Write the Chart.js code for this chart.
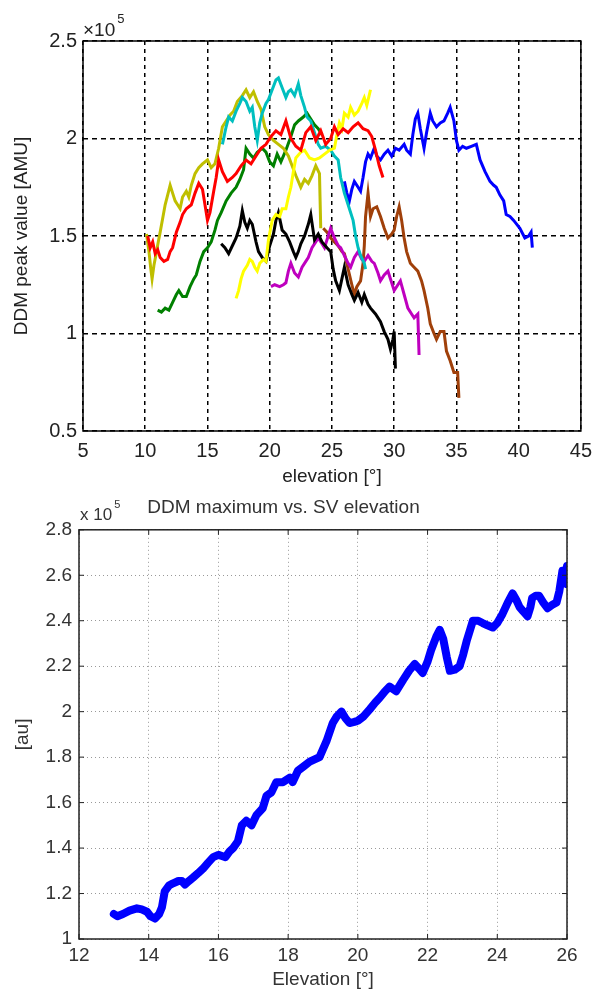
<!DOCTYPE html>
<html>
<head>
<meta charset="utf-8">
<script src="https://cdn.jsdelivr.net/npm/chart.js@4.4.1/dist/chart.umd.min.js"></script>
<style>
  html, body { margin: 0; padding: 0; background: #fff; }
  canvas { display: block; }
</style>
</head>
<body>
<canvas id="peakChart" width="600" height="490"></canvas>
<canvas id="maxChart" width="600" height="505"></canvas>
<script>
// DDM peak value (x10^5) vs elevation [deg], one array per satellite track
const redTrack = [[10.2,1.50],[10.4,1.44],[10.6,1.47],[10.8,1.41],[11.0,1.43],[11.2,1.39],[11.5,1.37],[11.8,1.38],[12.0,1.42],[12.2,1.44],[12.5,1.52],[12.8,1.57],[13.0,1.61],[13.3,1.64],[13.7,1.66],[14.0,1.72],[14.3,1.77],[14.6,1.74],[14.8,1.66],[15.0,1.58],[15.2,1.62],[15.5,1.73],[15.7,1.80],[15.9,1.89],[16.2,1.83],[16.6,1.78],[17.0,1.80],[17.3,1.82],[17.7,1.86],[18.1,1.89],[18.5,1.87],[18.9,1.91],[19.3,1.95],[19.7,1.97],[20.1,2.01],[20.5,2.04],[20.9,2.02],[21.3,2.09],[21.7,2.00],[22.1,1.96],[22.5,1.94],[22.9,2.03],[23.3,2.06],[23.7,1.99],[24.1,2.04],[24.5,1.97],[24.9,2.00],[25.2,2.06],[25.5,2.02],[25.9,2.05],[26.3,2.03],[26.7,2.06],[27.1,2.08],[27.5,2.05],[27.9,2.04],[28.2,2.01],[28.5,1.94],[28.8,1.86],[29.1,1.80]];
const oliveTrack = [[10.1,1.51],[10.3,1.42],[10.45,1.33],[10.55,1.28],[10.7,1.35],[10.85,1.40],[11.05,1.47],[11.2,1.52],[11.4,1.59],[11.6,1.66],[11.8,1.71],[12.0,1.76],[12.2,1.72],[12.4,1.68],[12.6,1.66],[12.8,1.64],[13.0,1.70],[13.3,1.73],[13.5,1.70],[13.7,1.76],[14.0,1.82],[14.3,1.85],[14.6,1.87],[15.0,1.89],[15.3,1.85],[15.6,1.87],[15.9,1.95],[16.2,2.06],[16.5,2.09],[16.8,2.12],[17.1,2.14],[17.4,2.19],[17.8,2.22],[18.1,2.25],[18.4,2.21],[18.7,2.24],[19.0,2.19],[19.3,2.15],[19.6,2.06],[19.9,2.02],[20.3,1.99],[20.7,1.97],[21.1,1.95],[21.5,1.91],[21.8,1.86],[22.1,1.81],[22.5,1.75],[22.8,1.79],[23.1,1.77],[23.4,1.81],[23.7,1.86],[24.0,1.82],[24.1,1.54]];
const greenTrack = [[11.0,1.12],[11.3,1.11],[11.6,1.13],[11.9,1.12],[12.2,1.16],[12.5,1.20],[12.7,1.22],[13.0,1.19],[13.3,1.19],[13.6,1.24],[13.9,1.28],[14.1,1.30],[14.4,1.37],[14.7,1.42],[15.0,1.44],[15.3,1.47],[15.6,1.53],[15.8,1.58],[16.1,1.62],[16.5,1.68],[16.9,1.72],[17.3,1.75],[17.6,1.79],[17.9,1.84],[18.1,1.95],[18.4,1.92],[18.7,1.90],[19.0,1.93],[19.4,1.95],[19.7,1.93],[20.0,1.88],[20.3,1.86],[20.6,1.92],[20.9,1.88],[21.3,1.94],[21.7,2.01],[22.0,2.07],[22.3,2.09],[22.7,2.11],[23.0,2.13],[23.3,2.10],[23.6,2.07],[23.9,2.05],[24.2,2.02]];
const cyanTrack = [[16.2,1.97],[16.5,2.06],[16.7,2.11],[17.0,2.09],[17.3,2.14],[17.6,2.18],[17.8,2.21],[18.1,2.19],[18.4,2.14],[18.6,2.16],[18.8,2.06],[19.0,1.99],[19.2,2.08],[19.4,2.13],[19.7,2.18],[19.9,2.20],[20.2,2.25],[20.5,2.30],[20.7,2.31],[21.0,2.26],[21.3,2.21],[21.5,2.24],[21.7,2.25],[22.0,2.22],[22.3,2.28],[22.5,2.22],[22.8,2.16],[23.0,2.11],[23.3,2.09],[23.6,2.03],[23.9,1.97],[24.1,1.95],[24.5,1.96],[24.9,1.94],[25.2,1.91],[25.5,1.89],[25.7,1.80],[26.0,1.72],[26.3,1.66],[26.7,1.58],[26.9,1.50],[27.1,1.44],[27.3,1.40],[27.6,1.36],[27.7,1.33]];
const yellowTrack = [[17.3,1.18],[17.5,1.22],[17.7,1.28],[17.9,1.32],[18.2,1.35],[18.4,1.38],[18.6,1.37],[18.8,1.34],[19.0,1.32],[19.2,1.36],[19.5,1.38],[19.7,1.37],[19.9,1.48],[20.2,1.58],[20.5,1.61],[20.8,1.60],[21.0,1.64],[21.3,1.64],[21.5,1.70],[21.7,1.75],[21.9,1.83],[22.1,1.90],[22.5,1.93],[22.8,1.94],[23.2,1.90],[23.6,1.89],[24.0,1.90],[24.4,1.92],[24.8,1.94],[25.2,1.95],[25.4,2.02],[25.6,2.08],[25.8,2.05],[26.0,2.13],[26.3,2.11],[26.5,2.16],[26.8,2.12],[27.1,2.14],[27.4,2.18],[27.6,2.21],[27.8,2.17],[28.1,2.25]];
const blackTrack = [[16.1,1.46],[16.4,1.44],[16.7,1.41],[17.0,1.45],[17.3,1.49],[17.6,1.55],[17.8,1.63],[18.0,1.57],[18.2,1.54],[18.4,1.58],[18.6,1.56],[18.9,1.47],[19.1,1.42],[19.4,1.39],[19.7,1.37],[20.0,1.45],[20.3,1.51],[20.5,1.58],[20.7,1.62],[21.0,1.53],[21.3,1.51],[21.6,1.47],[21.9,1.42],[22.1,1.39],[22.3,1.42],[22.5,1.46],[22.8,1.50],[23.1,1.56],[23.3,1.61],[23.6,1.48],[23.9,1.51],[24.2,1.47],[24.6,1.44],[24.9,1.42],[25.1,1.33],[25.3,1.27],[25.6,1.22],[25.8,1.28],[26.0,1.34],[26.3,1.25],[26.6,1.20],[26.8,1.17],[27.1,1.21],[27.4,1.16],[27.6,1.20],[27.9,1.15],[28.1,1.13],[28.5,1.10],[28.9,1.06],[29.2,1.01],[29.5,0.97],[29.7,0.92],[29.9,0.97],[30.0,1.01],[30.1,0.82]];
const magentaTrack = [[20.1,1.24],[20.4,1.25],[20.8,1.24],[21.1,1.25],[21.3,1.26],[21.5,1.32],[21.7,1.36],[22.0,1.31],[22.3,1.29],[22.6,1.34],[22.9,1.37],[23.1,1.39],[23.4,1.44],[23.7,1.47],[23.9,1.49],[24.2,1.46],[24.4,1.44],[24.7,1.50],[24.9,1.54],[25.2,1.49],[25.5,1.45],[25.7,1.44],[26.0,1.40],[26.3,1.36],[26.5,1.34],[26.8,1.39],[27.1,1.42],[27.4,1.38],[27.6,1.37],[27.9,1.40],[28.2,1.37],[28.4,1.36],[28.7,1.31],[28.9,1.27],[29.2,1.30],[29.5,1.32],[29.8,1.26],[30.0,1.22],[30.3,1.25],[30.5,1.27],[30.8,1.20],[31.1,1.13],[31.4,1.10],[31.6,1.08],[31.9,1.10],[32.0,0.89]];
const brownTrack = [[24.3,1.54],[24.6,1.52],[24.9,1.49],[25.2,1.47],[25.5,1.45],[25.8,1.42],[26.0,1.41],[26.3,1.33],[26.6,1.25],[26.8,1.20],[27.0,1.24],[27.3,1.27],[27.5,1.36],[27.6,1.45],[27.7,1.60],[27.9,1.72],[28.1,1.60],[28.3,1.64],[28.6,1.65],[28.9,1.60],[29.2,1.54],[29.5,1.49],[29.8,1.51],[30.0,1.53],[30.2,1.60],[30.4,1.65],[30.6,1.58],[30.8,1.49],[31.0,1.42],[31.3,1.36],[31.6,1.34],[31.9,1.32],[32.2,1.27],[32.4,1.22],[32.7,1.13],[32.9,1.05],[33.2,1.00],[33.4,0.97],[33.7,1.01],[34.0,1.01],[34.2,0.91],[34.5,0.86],[34.8,0.80],[35.1,0.80],[35.2,0.67]];
const blueTrack = [[26.0,1.78],[26.2,1.72],[26.4,1.68],[26.6,1.74],[26.8,1.78],[27.0,1.76],[27.3,1.73],[27.5,1.80],[27.7,1.88],[27.9,1.92],[28.1,1.90],[28.4,1.95],[28.6,1.91],[28.9,1.89],[29.2,1.92],[29.5,1.94],[29.8,1.91],[30.1,1.95],[30.4,1.94],[30.8,1.97],[31.0,1.94],[31.3,1.92],[31.5,2.02],[31.7,2.10],[31.9,2.13],[32.1,2.05],[32.4,1.95],[32.6,2.03],[32.9,2.13],[33.1,2.09],[33.4,2.06],[33.7,2.08],[34.0,2.09],[34.3,2.13],[34.5,2.16],[34.8,2.09],[35.0,1.99],[35.2,1.94],[35.5,1.96],[35.8,1.95],[36.2,1.96],[36.6,1.97],[36.9,1.89],[37.3,1.83],[37.7,1.78],[38.0,1.76],[38.2,1.75],[38.5,1.71],[38.8,1.68],[39.0,1.61],[39.3,1.60],[39.6,1.58],[40.1,1.54],[40.5,1.49],[40.8,1.50],[41.0,1.52],[41.1,1.44]];

// DDM maximum (x10^5) vs SV elevation [deg]
const ddmMax = [[13.0,1.11],[13.1,1.10],[13.26,1.11],[13.45,1.125],[13.66,1.135],[13.8,1.13],[13.95,1.12],[14.05,1.10],[14.18,1.09],[14.3,1.11],[14.38,1.14],[14.46,1.21],[14.58,1.235],[14.7,1.245],[14.85,1.255],[14.95,1.255],[15.04,1.24],[15.15,1.255],[15.27,1.27],[15.42,1.29],[15.56,1.31],[15.7,1.335],[15.85,1.36],[16.0,1.37],[16.1,1.365],[16.2,1.36],[16.32,1.385],[16.42,1.40],[16.56,1.43],[16.67,1.50],[16.8,1.52],[16.95,1.50],[17.09,1.545],[17.27,1.575],[17.38,1.63],[17.52,1.645],[17.66,1.69],[17.85,1.69],[18.05,1.71],[18.13,1.69],[18.28,1.74],[18.45,1.76],[18.62,1.78],[18.9,1.80],[19.1,1.87],[19.28,1.95],[19.4,1.98],[19.53,2.0],[19.65,1.97],[19.76,1.95],[19.9,1.955],[20.0,1.96],[20.17,1.98],[20.34,2.01],[20.5,2.04],[20.62,2.06],[20.78,2.09],[20.91,2.11],[21.1,2.09],[21.3,2.14],[21.47,2.18],[21.63,2.21],[21.75,2.19],[21.86,2.17],[22.0,2.22],[22.1,2.27],[22.25,2.33],[22.35,2.36],[22.45,2.32],[22.55,2.24],[22.64,2.18],[22.78,2.185],[22.92,2.20],[23.02,2.25],[23.12,2.31],[23.22,2.36],[23.3,2.40],[23.45,2.40],[23.58,2.39],[23.72,2.38],[23.87,2.37],[24.0,2.39],[24.15,2.43],[24.3,2.48],[24.44,2.52],[24.55,2.49],[24.64,2.46],[24.75,2.44],[24.87,2.42],[24.95,2.46],[25.0,2.50],[25.1,2.51],[25.2,2.51],[25.32,2.48],[25.44,2.455],[25.58,2.47],[25.7,2.48],[25.78,2.53],[25.87,2.62],[25.93,2.60],[26.0,2.64],[26.0,2.56]];

const toXY = (pts) => pts.map(([x, y]) => ({ x, y }));
const FONT = "'Liberation Sans', Arial, sans-serif";
const plainTick = (v) => String(Math.round(v * 10) / 10);

// box round the plot, optional inner tick marks, and the "x 10^5" note
const matlabFrame = {
  id: "matlabFrame",
  afterDraw(chart, args, opts) {
    const { ctx, chartArea: a, scales } = chart;
    ctx.save();
    ctx.strokeStyle = opts.color;
    ctx.lineWidth = opts.width;
    if (opts.innerTicks) {
      ctx.lineWidth = 1;
      ctx.beginPath();
      scales.x.ticks.forEach((t) => {
        const px = scales.x.getPixelForValue(t.value);
        ctx.moveTo(px, a.bottom); ctx.lineTo(px, a.bottom - 5);
        ctx.moveTo(px, a.top); ctx.lineTo(px, a.top + 5);
      });
      scales.y.ticks.forEach((t) => {
        const py = scales.y.getPixelForValue(t.value);
        ctx.moveTo(a.left, py); ctx.lineTo(a.left + 5, py);
        ctx.moveTo(a.right, py); ctx.lineTo(a.right - 5, py);
      });
      ctx.stroke();
      ctx.lineWidth = opts.width;
    }
    ctx.strokeRect(a.left, a.top, a.right - a.left, a.bottom - a.top);
    ctx.fillStyle = opts.textColor;
    ctx.textBaseline = "alphabetic";
    ctx.textAlign = "left";
    ctx.font = opts.expSize + "px " + FONT;
    ctx.fillText(opts.expText, a.left + opts.dx, a.top - opts.dy);
    const w = ctx.measureText(opts.expText).width;
    ctx.font = opts.supSize + "px " + FONT;
    ctx.fillText("5", a.left + opts.dx + w + 2, a.top - opts.dy - opts.supRise);
    ctx.restore();
  },
};

new Chart(document.getElementById("peakChart").getContext("2d"), {
  type: "scatter",
  data: {
    datasets: [
      { data: toXY(redTrack), borderColor: "#ff0000" },
      { data: toXY(yellowTrack), borderColor: "#ffff00" },
      { data: toXY(cyanTrack), borderColor: "#00bfbf" },
      { data: toXY(oliveTrack), borderColor: "#bfbf00" },
      { data: toXY(greenTrack), borderColor: "#008000" },
      { data: toXY(blackTrack), borderColor: "#000000" },
      { data: toXY(magentaTrack), borderColor: "#bf00bf" },
      { data: toXY(brownTrack), borderColor: "#a0400a" },
      { data: toXY(blueTrack), borderColor: "#0000ff" },
    ].map((d) => ({ ...d, showLine: true, borderWidth: 3, pointRadius: 0, tension: 0 })),
  },
  options: {
    responsive: false,
    animation: false,
    layout: { padding: { left: 0, right: 13, top: 41, bottom: 0 } },
    plugins: {
      legend: { display: false },
      tooltip: { enabled: false },
      matlabFrame: { color: "#000", width: 1.5, textColor: "#222", expText: "\u00d710", expSize: 19, supSize: 13, supRise: 13, dx: 0, dy: 5 },
    },
    scales: {
      x: {
        type: "linear", min: 5, max: 45,
        ticks: { stepSize: 5, color: "#222", font: { family: FONT, size: 20 }, padding: 8, maxRotation: 0 },
        grid: { color: "#000", lineWidth: 1.5, drawTicks: false },
        border: { display: false, dash: [4, 4] },
        title: { display: true, text: "elevation [\u00b0]", color: "#222", font: { family: FONT, size: 19 }, padding: { top: 0, bottom: 2 } },
        afterFit: (s) => { s.height = 59; },
      },
      y: {
        min: 0.5, max: 2.5,
        ticks: { stepSize: 0.5, color: "#222", font: { family: FONT, size: 20 }, padding: 6, callback: plainTick },
        grid: { color: "#000", lineWidth: 1.5, drawTicks: false },
        border: { display: false, dash: [5, 4] },
        title: { display: true, text: "DDM peak value [AMU]", color: "#222", font: { family: FONT, size: 19 }, padding: { top: 10, bottom: 0 } },
        afterFit: (s) => { s.width = 83; },
      },
    },
  },
  plugins: [matlabFrame],
});

new Chart(document.getElementById("maxChart").getContext("2d"), {
  type: "scatter",
  data: {
    datasets: [
      { data: toXY(ddmMax), borderColor: "#0000ff", showLine: true, borderWidth: 8, pointRadius: 0, tension: 0, borderJoinStyle: "round", borderCapStyle: "round" },
    ],
  },
  options: {
    responsive: false,
    animation: false,
    layout: { padding: { left: 0, right: 33, top: 0, bottom: 0 } },
    plugins: {
      legend: { display: false },
      tooltip: { enabled: false },
      title: { display: true, text: "DDM maximum vs. SV elevation", color: "#333", font: { family: FONT, size: 19, weight: "normal" }, padding: { top: 6, bottom: 11 } },
      matlabFrame: { color: "#222", width: 1.5, innerTicks: true, textColor: "#333", expText: "x 10", expSize: 17, supSize: 11, supRise: 12, dx: 1, dy: 10 },
    },
    scales: {
      x: {
        type: "linear", min: 12, max: 26,
        ticks: { stepSize: 2, color: "#333", font: { family: FONT, size: 19 }, padding: 5, maxRotation: 0 },
        grid: { color: "#999", lineWidth: 1, drawTicks: false },
        border: { display: false, dash: [1, 3] },
        title: { display: true, text: "Elevation [\u00b0]", color: "#333", font: { family: FONT, size: 19 }, padding: { top: 0, bottom: 4 } },
        afterFit: (s) => { s.height = 56; },
      },
      y: {
        min: 1, max: 2.8,
        ticks: { stepSize: 0.2, color: "#333", font: { family: FONT, size: 19 }, padding: 7, callback: plainTick },
        grid: { color: "#999", lineWidth: 1, drawTicks: false },
        border: { display: false, dash: [1, 3] },
        title: { display: true, text: "[au]", color: "#333", font: { family: FONT, size: 19 }, padding: { top: 11, bottom: 0 } },
        afterFit: (s) => { s.width = 79; },
      },
    },
  },
  plugins: [matlabFrame],
});
</script>
</body>
</html>
